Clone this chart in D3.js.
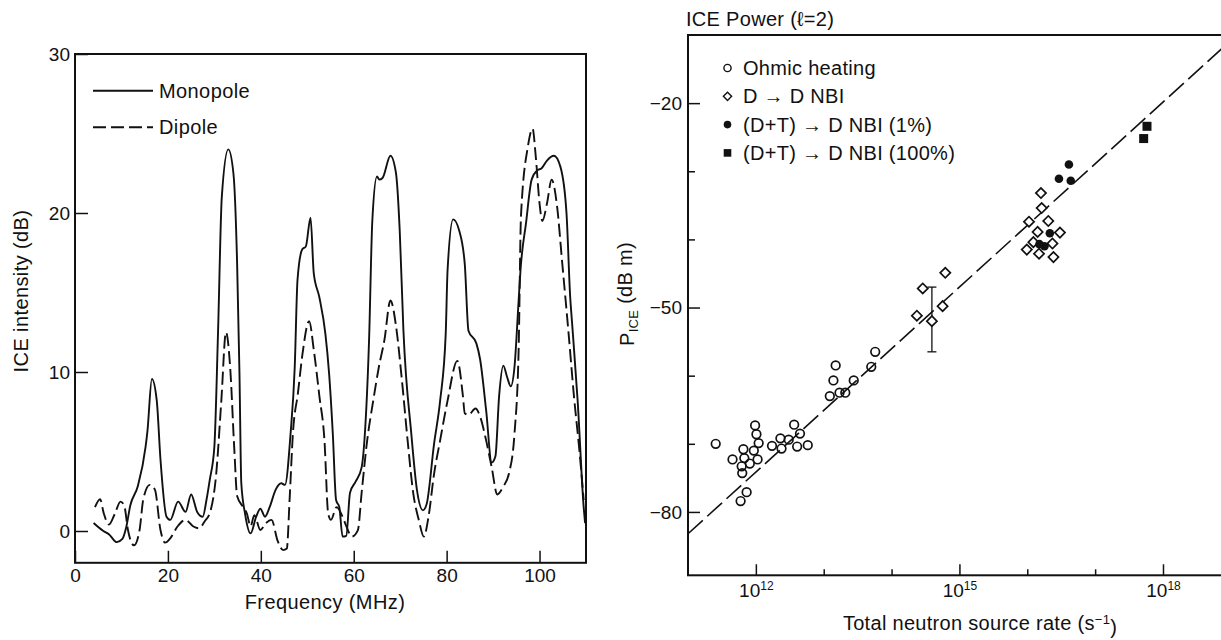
<!DOCTYPE html>
<html>
<head>
<meta charset="utf-8">
<script src="https://cdn.jsdelivr.net/npm/d3@7"></script>
<style>
  html, body { margin: 0; background: #fff; }
  svg { display: block; font-family: "Liberation Sans", Arial, Helvetica, sans-serif; fill: #111; }
  text { fill: #111; }
</style>
</head>
<body>
<div id="chart"></div>
<script>
// ---- left panel: ICE spectrum ----
const monoFreq = [4.0, 6.1, 7.3, 9.0, 10.2, 11.0, 11.9, 13.5, 15.2, 15.6, 16.55, 17.6, 18.4, 19.7, 20.5, 22.2, 23.8, 25.0, 26.3, 27.5, 28.3, 29.0, 30.0, 30.8, 31.6, 33.0, 34.1, 34.9, 35.4, 35.8, 36.6, 37.8, 39.0, 39.9, 40.9, 41.9, 43.2, 44.4, 45.2, 46.4, 47.3, 47.9, 48.9, 49.7, 50.7, 51.4, 52.6, 53.9, 54.7, 55.5, 56.2, 56.9, 57.6, 58.4, 59.2, 60.4, 61.7, 62.5, 63.3, 64.0, 65.0, 65.5, 66.2, 67.9, 69.1, 69.9, 70.7, 72.4, 73.6, 74.9, 75.7, 77.3, 78.6, 79.8, 80.2, 81.4, 82.7, 83.9, 84.7, 86.4, 87.2, 88.5, 89.7, 90.5, 91.3, 92.2, 93.0, 93.8, 94.6, 95.5, 95.9, 97.1, 98.3, 99.6, 100.4, 101.6, 103.1, 104.5, 105.8, 106.6, 107.0, 108.2, 109.5, 109.8]
const monoDb = [0.5, 0.0, -0.2, -0.7, -0.5, 0.2, 1.6, 2.8, 5.3, 6.3, 9.56, 8.2, 4.5, 0.9, 0.7, 1.85, 1.2, 2.3, 1.2, 0.9, 1.95, 3.2, 5.3, 12.6, 21.0, 24.0, 22.5, 16.8, 10.0, 3.0, 1.1, -0.15, 0.9, 1.4, 0.9, 1.5, 2.6, 3.0, 2.9, 6.1, 10.3, 15.8, 17.7, 17.9, 19.7, 16.2, 14.7, 12.4, 9.9, 6.1, 1.95, 1.5, -0.35, -0.3, 2.4, 3.1, 4.0, 6.6, 12.0, 19.5, 22.3, 22.1, 22.2, 23.6, 22.5, 18.9, 12.6, 6.1, 2.6, 1.3, 1.7, 5.5, 8.2, 12.4, 16.4, 19.6, 18.9, 16.8, 12.6, 11.8, 10.8, 7.6, 4.3, 4.7, 8.5, 10.4, 9.7, 9.1, 10.3, 14.5, 16.4, 19.4, 22.1, 22.7, 22.8, 23.3, 23.6, 22.9, 20.0, 14.7, 13.1, 8.2, 1.5, 0.5]

const dipFreq = [4.3, 5.4, 6.2, 7.3, 8.6, 9.8, 10.6, 11.4, 12.7, 13.9, 14.7, 16.1, 17.2, 18.4, 19.4, 20.5, 22.1, 23.8, 25.4, 26.7, 27.9, 29.2, 30.4, 31.5, 32.5, 33.4, 34.3, 34.9, 36.2, 37.0, 37.8, 38.6, 39.9, 41.1, 42.3, 43.6, 44.8, 45.6, 46.2, 46.9, 48.0, 49.0, 50.4, 51.4, 52.6, 53.7, 54.5, 55.1, 56.3, 57.6, 58.4, 59.6, 60.9, 61.7, 62.9, 64.2, 65.4, 66.6, 67.9, 69.1, 70.3, 71.6, 72.8, 74.0, 75.1, 76.1, 77.3, 78.6, 80.2, 82.3, 83.5, 83.9, 84.7, 86.2, 87.2, 88.5, 89.7, 90.9, 92.2, 93.4, 94.6, 95.5, 96.0, 97.5, 98.5, 99.2, 100.0, 100.6, 101.6, 102.6, 103.7, 104.9, 106.2, 107.4, 108.6, 109.5]
const dipDb = [1.5, 2.0, 1.1, 0.4, 1.1, 1.85, 1.6, 0.06, -0.9, 0.06, 2.0, 2.9, 2.6, 0.06, -0.73, -0.46, 0.3, 0.7, 0.3, 0.17, 0.6, 1.3, 3.6, 8.2, 12.5, 10.3, 5.1, 2.2, 1.5, 1.1, 0.3, 1.0, 0.06, 0.5, 0.7, -0.6, -1.2, -1.1, 2.0, 6.1, 8.7, 11.2, 13.2, 11.4, 8.5, 5.7, 1.1, 0.7, 1.5, 0.9, 0.3, -0.35, 0.06, 2.4, 5.7, 8.2, 10.3, 12.0, 14.5, 12.9, 9.7, 5.7, 2.4, 0.7, -0.35, 0.9, 3.6, 5.7, 8.2, 10.7, 8.5, 7.4, 7.3, 7.7, 7.2, 5.7, 4.0, 2.3, 2.8, 3.6, 6.1, 11.4, 19.8, 24.2, 25.3, 23.5, 20.6, 19.5, 20.6, 22.1, 20.6, 16.8, 12.6, 8.5, 5.0, 1.95]

const freqTicks = [0, 20, 40, 60, 80, 100]
const dbTicks = [0, 10, 20, 30]

// ---- right panel: ICE power vs neutron rate ----
const ohmicRate = [2.56e11, 4.53e11, 6.55e11, 9.75e11, 1.02e12, 1.10e12, 9.33e11, 6.76e11, 8.15e11, 1.06e12, 6.18e11, 6.30e11, 7.31e11, 5.96e11, 1.73e12, 2.30e12, 2.39e12, 3.05e12, 3.67e12, 4.47e12, 4.06e12, 5.82e12, 1.23e13, 1.39e13, 1.50e13, 1.71e13, 2.08e13, 2.77e13, 5.02e13, 5.74e13]
const ohmicP = [-70.0, -72.3, -70.8, -67.3, -68.6, -69.9, -71.0, -72.1, -72.9, -72.3, -73.3, -74.3, -77.1, -78.4, -70.3, -69.2, -70.7, -69.4, -67.2, -68.5, -70.4, -70.2, -63.0, -60.7, -58.5, -62.5, -62.5, -60.7, -58.7, -56.5]

const ddRate = [2.88e14, 6.19e14, 2.36e14, 3.93e14, 5.65e14, 1.59e16, 1.63e16, 1.06e16, 2.04e16, 1.42e16, 3.03e16, 1.23e16, 9.84e15, 1.49e16, 2.35e16, 2.43e16]
const ddP = [-47.2, -44.9, -51.2, -52.0, -49.8, -33.2, -35.4, -37.4, -37.3, -38.9, -39.0, -40.4, -41.5, -42.1, -40.6, -42.6]

const dt1Rate = [4.11e16, 2.93e16, 4.37e16, 2.15e16, 1.79e16, 1.51e16]
const dt1P = [-29.0, -31.1, -31.4, -39.1, -41.0, -40.7]

const dt100Rate = [5.81e17, 5.19e17]
const dt100P = [-23.4, -25.2]

const errRate = 3.93e14
const errRange = [-56.5, -47.0]

const fitRate = [1e11, 1e19]
const fitP = [-83.2, -10.8]

const rateMajor = [1e12, 1e15, 1e18]
const rateMinor = [1e13, 1e14, 1e16, 1e17, 1e19]
const pMajor = [-80, -50, -20]
const pMinor = [-70, -60, -40, -30]

const legendLabels = ["Ohmic heating", "D \u2192 D NBI", "(D+T) \u2192 D NBI (1%)", "(D+T) \u2192 D NBI (100%)"]

const ink = "#111"
const svg = d3.select("#chart").append("svg").attr("width", 1221).attr("height", 640)

// ===== left panel =====
const xL = d3.scaleLinear().domain([0, 110]).range([75, 586])
const yL = d3.scaleLinear().domain([-2, 30]).range([562.8, 54])

const left = svg.append("g")

left.append("g")
  .attr("transform", `translate(0,${yL(-2)})`)
  .call(d3.axisBottom(xL).tickValues(freqTicks).tickSize(-12).tickPadding(6))
  .call(g => g.select(".domain").remove())
  .attr("font-family", null).attr("font-size", 19)

left.append("g")
  .attr("transform", `translate(${xL(0)},0)`)
  .call(d3.axisLeft(yL).tickValues(dbTicks).tickSize(-13).tickPadding(5))
  .call(g => g.select(".domain").remove())
  .attr("font-family", null).attr("font-size", 19)

left.selectAll(".tick line").attr("stroke", ink).attr("stroke-width", 1.5)

left.append("rect")
  .attr("x", xL(0)).attr("y", yL(30))
  .attr("width", xL(110) - xL(0)).attr("height", yL(-2) - yL(30))
  .attr("fill", "none").attr("stroke", ink).attr("stroke-width", 2)

const lineL = d3.line().x(d => xL(d[0])).y(d => yL(d[1])).curve(d3.curveMonotoneX)

left.append("path")
  .datum(d3.zip(monoFreq, monoDb))
  .attr("d", lineL)
  .attr("fill", "none").attr("stroke", ink).attr("stroke-width", 1.9)

left.append("path")
  .datum(d3.zip(dipFreq, dipDb))
  .attr("d", lineL)
  .attr("fill", "none").attr("stroke", ink).attr("stroke-width", 1.9)
  .attr("stroke-dasharray", "13,5")

// legend
const legL = [["Monopole", null], ["Dipole", "13,5"]]
legL.forEach(([label, dash], i) => {
  const y = 90.7 + i * 36.6
  left.append("line")
    .attr("x1", 93).attr("x2", 153).attr("y1", y).attr("y2", y)
    .attr("stroke", ink).attr("stroke-width", 1.9)
    .attr("stroke-dasharray", dash)
  left.append("text")
    .attr("x", 159).attr("y", y).attr("dy", "0.35em")
    .attr("font-size", 20).attr("letter-spacing", 0.4)
    .text(label)
})

left.append("text")
  .attr("x", 325).attr("y", 609)
  .attr("text-anchor", "middle").attr("font-size", 20).attr("letter-spacing", 0.4)
  .text("Frequency (MHz)")

left.append("text")
  .attr("transform", "translate(28,291) rotate(-90)")
  .attr("text-anchor", "middle").attr("font-size", 20).attr("letter-spacing", 0.4)
  .text("ICE intensity (dB)")

// ===== right panel =====
const xR = d3.scaleLog().domain([1e11, 1e20]).range([688, 1298.7])
const yR = d3.scaleLinear().domain([-89.3, -10]).range([575.3, 35])

const right = svg.append("g")

const xMajor = right.append("g")
  .attr("transform", `translate(0,${yR(-89.3)})`)
  .call(d3.axisBottom(xR).tickValues(rateMajor).tickSize(-11).tickPadding(8))
  .call(g => g.select(".domain").remove())
  .attr("font-family", null).attr("font-size", 19)
xMajor.selectAll(".tick text")
  .text("10")
  .append("tspan")
  .attr("dy", "-0.55em").attr("font-size", 12)
  .text(d => Math.round(Math.log10(d)))

right.append("g")
  .attr("transform", `translate(0,${yR(-89.3)})`)
  .call(d3.axisBottom(xR).tickValues(rateMinor).tickSize(-6).tickFormat(() => ""))
  .call(g => g.select(".domain").remove())

right.append("g")
  .attr("transform", `translate(${xR(1e11)},0)`)
  .call(d3.axisLeft(yR).tickValues(pMajor).tickSize(-12).tickPadding(6))
  .call(g => g.select(".domain").remove())
  .attr("font-family", null).attr("font-size", 19)

right.append("g")
  .attr("transform", `translate(${xR(1e11)},0)`)
  .call(d3.axisLeft(yR).tickValues(pMinor).tickSize(-7).tickFormat(() => ""))
  .call(g => g.select(".domain").remove())

right.selectAll(".tick line").attr("stroke", ink).attr("stroke-width", 1.5)

right.append("rect")
  .attr("x", xR(1e11)).attr("y", yR(-10))
  .attr("width", xR(1e20) - xR(1e11)).attr("height", yR(-89.3) - yR(-10))
  .attr("fill", "none").attr("stroke", ink).attr("stroke-width", 2)

// fit line
right.append("path")
  .datum(d3.zip(fitRate, fitP))
  .attr("d", d3.line().x(d => xR(d[0])).y(d => yR(d[1])))
  .attr("fill", "none").attr("stroke", ink).attr("stroke-width", 1.6)
  .attr("stroke-dasharray", "20,6")

// error bar
right.append("line")
  .attr("x1", xR(errRate)).attr("x2", xR(errRate))
  .attr("y1", yR(errRange[0])).attr("y2", yR(errRange[1]))
  .attr("stroke", ink).attr("stroke-width", 1.3)
errRange.forEach(v => {
  right.append("line")
    .attr("x1", xR(errRate) - 4.5).attr("x2", xR(errRate) + 4.5)
    .attr("y1", yR(v)).attr("y2", yR(v))
    .attr("stroke", ink).attr("stroke-width", 1.3)
})

const diamond = d3.symbol(d3.symbolSquare, 52)()
const diamondSmall = d3.symbol(d3.symbolSquare, 34)()

right.append("g").selectAll("circle")
  .data(d3.zip(ohmicRate, ohmicP))
  .join("circle")
  .attr("cx", d => xR(d[0])).attr("cy", d => yR(d[1]))
  .attr("r", 4.3)
  .attr("fill", "none").attr("stroke", ink).attr("stroke-width", 1.7)

right.append("g").selectAll("path")
  .data(d3.zip(ddRate, ddP))
  .join("path")
  .attr("d", diamond)
  .attr("transform", d => `translate(${xR(d[0])},${yR(d[1])}) rotate(45)`)
  .attr("fill", "#fff").attr("stroke", ink).attr("stroke-width", 1.7)

right.append("g").selectAll("circle")
  .data(d3.zip(dt1Rate, dt1P))
  .join("circle")
  .attr("cx", d => xR(d[0])).attr("cy", d => yR(d[1]))
  .attr("r", 4.3)
  .attr("fill", ink)

right.append("g").selectAll("rect")
  .data(d3.zip(dt100Rate, dt100P))
  .join("rect")
  .attr("x", d => xR(d[0]) - 4.5).attr("y", d => yR(d[1]) - 4.5)
  .attr("width", 9).attr("height", 9)
  .attr("fill", ink)

// legend
legendLabels.forEach((label, i) => {
  const y = 68 + i * 28.3
  const mx = 727.5
  if (i === 0) {
    right.append("circle").attr("cx", mx).attr("cy", y).attr("r", 3.6)
      .attr("fill", "none").attr("stroke", ink).attr("stroke-width", 1.4)
  } else if (i === 1) {
    right.append("path").attr("d", diamondSmall)
      .attr("transform", `translate(${mx},${y}) rotate(45)`)
      .attr("fill", "none").attr("stroke", ink).attr("stroke-width", 1.4)
  } else if (i === 2) {
    right.append("circle").attr("cx", mx).attr("cy", y).attr("r", 3.8).attr("fill", ink)
  } else {
    right.append("rect").attr("x", mx - 3.8).attr("y", y - 3.8)
      .attr("width", 7.6).attr("height", 7.6).attr("fill", ink)
  }
  right.append("text")
    .attr("x", 743).attr("y", y).attr("dy", "0.35em")
    .attr("font-size", 20).attr("letter-spacing", 0.3)
    .text(label)
})

right.append("text")
  .attr("x", 686).attr("y", 26)
  .attr("font-size", 20).attr("letter-spacing", 0.3)
  .text("ICE Power (\u2113=2)")

const xt = right.append("text")
  .attr("x", 980).attr("y", 630)
  .attr("text-anchor", "middle").attr("font-size", 20).attr("letter-spacing", 0.3)
xt.append("tspan").text("Total neutron source rate (s")
xt.append("tspan").attr("dy", "-0.5em").attr("font-size", 13).text("\u22121")
xt.append("tspan").attr("dy", "0.5em").text(")")

const yt = right.append("text")
  .attr("transform", "translate(634,294) rotate(-90)")
  .attr("text-anchor", "middle").attr("font-size", 20).attr("letter-spacing", 0.3)
yt.append("tspan").text("P")
yt.append("tspan").attr("dy", "0.3em").attr("font-size", 13).text("ICE")
yt.append("tspan").attr("dy", "-0.3em").text(" (dB m)")
</script>
</body>
</html>
